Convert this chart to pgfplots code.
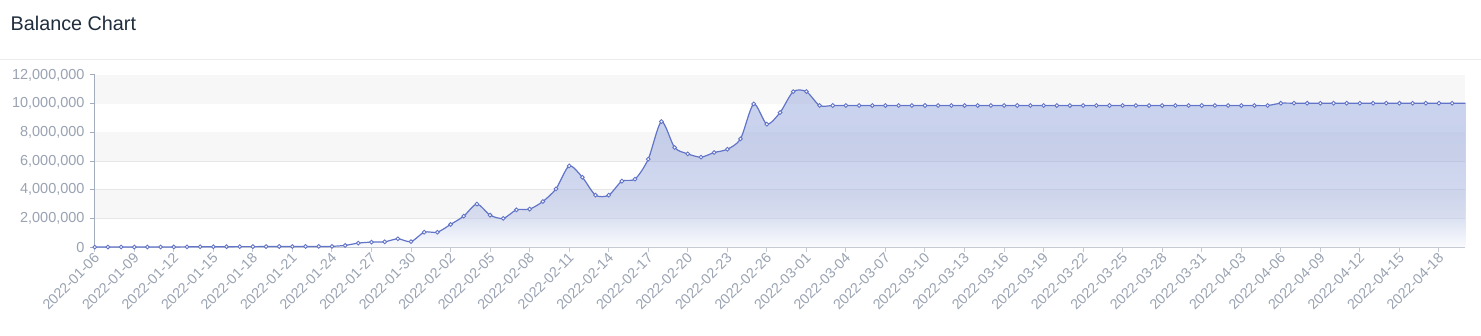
\documentclass[border=0pt]{standalone}
\usepackage{fontspec}
\setmainfont{Liberation Sans}
\usepackage{pgfplots}
\usepackage{pgfplotstable}
\pgfplotsset{compat=1.18}
\definecolor{linec}{HTML}{6274C8}
\definecolor{areac}{HTML}{5470C6}
\definecolor{tickc}{HTML}{9AA3B2}
\definecolor{gridc}{HTML}{E6E6E6}
\definecolor{bandc}{HTML}{F7F7F7}
\definecolor{titlec}{HTML}{1F2D3D}
\definecolor{sepc}{HTML}{EBEBEB}
\definecolor{axc}{HTML}{C3C8D1}
\definecolor{yaxc}{HTML}{A4ADBD}
\pgfdeclareverticalshading{areashade}{100bp}{color(0bp)=(areac!6!white); color(25bp)=(areac!6!white); color(34bp)=(areac!44!white); color(43.5bp)=(areac!60!white); color(62bp)=(areac!69!white); color(75bp)=(areac!67!white); color(100bp)=(areac!67!white)}

\pgfplotstableread{
x y
0 5000
1 5000
2 5000
3 8000
4 8000
5 10000
6 12000
7 20000
8 25000
9 25000
10 30000
11 35000
12 35000
13 40000
14 45000
15 45000
16 50000
17 50000
18 55000
19 120000
20 280000
21 350000
22 370000
23 580000
24 380000
25 1040000
26 1040000
27 1580000
28 2160000
29 3000000
30 2230000
31 2000000
32 2600000
33 2650000
34 3180000
35 4060000
36 5660000
37 4870000
38 3620000
39 3620000
40 4600000
41 4740000
42 6130000
43 8750000
44 6940000
45 6500000
46 6270000
47 6590000
48 6820000
49 7540000
50 9980000
51 8570000
52 9380000
53 10840000
54 10840000
55 9870000
56 9870000
57 9870000
58 9870000
59 9870000
60 9870000
61 9870000
62 9870000
63 9870000
64 9870000
65 9870000
66 9870000
67 9870000
68 9870000
69 9870000
70 9870000
71 9870000
72 9870000
73 9870000
74 9870000
75 9870000
76 9870000
77 9870000
78 9870000
79 9870000
80 9870000
81 9870000
82 9870000
83 9870000
84 9870000
85 9870000
86 9870000
87 9870000
88 9870000
89 9870000
90 10030000
91 10030000
92 10030000
93 10030000
94 10030000
95 10030000
96 10030000
97 10030000
98 10030000
99 10030000
100 10030000
101 10030000
102 10030000
103 10030000
104 10030000
}\balance

\begin{document}
\begin{tikzpicture}
\fill[white] (0pt,0pt) rectangle (1481pt,336pt);
\draw[sepc, line width=1pt] (0pt,276pt) -- (1481pt,276pt);
\node[anchor=base west, font=\fontsize{19.8}{23}\selectfont, text=titlec, inner sep=0pt] at (10pt,305pt) {Balance Chart};
\begin{axis}[
  at={(94.3pt,88.7pt)}, anchor=south west,
  scale only axis, width=1371.5pt, height=172.3pt,
  xmin=0, xmax=104, ymin=0, ymax=12000000,
  axis x line*=bottom, axis y line*=left,
  x axis line style={axc, line width=1pt},
  y axis line style={yaxc, line width=1pt},
  tick align=outside, major tick length=5pt,
  xtick style={axc, line width=1pt},
  ytick style={yaxc, line width=1pt},
  minor tick num=0,
  xtick={0,3,...,102},
  xticklabels={2022-01-06,2022-01-09,2022-01-12,2022-01-15,2022-01-18,2022-01-21,2022-01-24,2022-01-27,2022-01-30,2022-02-02,2022-02-05,2022-02-08,2022-02-11,2022-02-14,2022-02-17,2022-02-20,2022-02-23,2022-02-26,2022-03-01,2022-03-04,2022-03-07,2022-03-10,2022-03-13,2022-03-16,2022-03-19,2022-03-22,2022-03-25,2022-03-28,2022-03-31,2022-04-03,2022-04-06,2022-04-09,2022-04-12,2022-04-15,2022-04-18},
  ytick={0,2000000,4000000,6000000,8000000,10000000,12000000},
  scaled y ticks=false,
  /pgf/number format/.cd, fixed, precision=0, 1000 sep={,}, assume math mode=true,
  /pgfplots/.cd,
  yticklabel style={font=\fontsize{14.5}{16}\selectfont, text=tickc, inner sep=0pt, xshift=-5pt},
  xticklabel style={font=\fontsize{14.3}{16}\selectfont, text=tickc, rotate=45, anchor=east, inner sep=0pt, xshift=-1pt, yshift=-4pt},
  ymajorgrids, grid style={gridc, line width=0.8pt},
  clip=true,
]
\fill[bandc] (axis cs:0,10000000) rectangle (axis cs:104,12000000);
\fill[bandc] (axis cs:0,6000000) rectangle (axis cs:104,8000000);
\fill[bandc] (axis cs:0,2000000) rectangle (axis cs:104,4000000);
\addplot[draw=none, smooth, tension=0.45, shading=areashade, fill opacity=0.45] table[x=x,y=y] {\balance} \closedcycle;
\addplot[linec, line width=1.2pt, smooth, tension=0.45, mark=*, mark size=1.9pt, mark options={fill=white, draw=linec, line width=0.9pt, solid}, mark indices={1,...,104}] table[x=x,y=y] {\balance};
\end{axis}
\end{tikzpicture}
\end{document}
